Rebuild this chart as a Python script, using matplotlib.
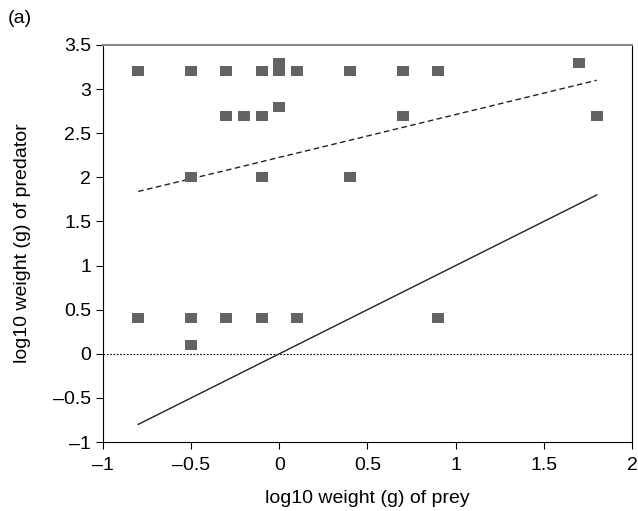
import matplotlib
matplotlib.use('Agg')
import matplotlib.pyplot as plt

plt.rcParams['font.family'] = ['Liberation Sans', 'DejaVu Sans']

# observed prey / predator weights (log10 g)
prey = [-0.8, -0.5, -0.3, -0.1, 0.0, 0.0, 0.1, 0.4, 0.7, 0.9, 1.7,
        -0.3, -0.2, -0.1, 0.0, 0.7, 1.8,
        -0.5, -0.1, 0.4,
        -0.8, -0.5, -0.3, -0.1, 0.1, 0.9,
        -0.5]
pred = [3.2, 3.2, 3.2, 3.2, 3.2, 3.3, 3.2, 3.2, 3.2, 3.2, 3.3,
        2.7, 2.7, 2.7, 2.8, 2.7, 2.7,
        2.0, 2.0, 2.0,
        0.4, 0.4, 0.4, 0.4, 0.4, 0.4,
        0.1]

# fitted trend line and 1:1 line
trend_x = [-0.8, -0.3, 1.8]
trend_y = [1.84, 2.08, 3.1]
equal_x = [-0.8, 1.8]
equal_y = [-0.8, 1.8]

fig = plt.figure(figsize=(6.38, 5.11), dpi=100)
ax = fig.add_axes([0.1614, 0.135, 0.8292, 0.777])

ax.axhline(0, color='black', linestyle=(0, (1.5, 1.5)), linewidth=0.8)
ax.plot(trend_x, trend_y, color='#222222', linestyle=(0, (4, 2.5)), linewidth=1.0)
ax.plot(equal_x, equal_y, color='#222222', linewidth=1.0)

rect = [(-1, -0.85), (1, -0.85), (1, 0.85), (-1, 0.85)]
ax.plot(prey, pred, linestyle='none', marker=rect, markersize=8.5,
        color='#636363', markeredgewidth=0)

ax.set_xlim(-1, 2)
ax.set_ylim(-1, 3.5)
ax.set_xticks([-1, -0.5, 0, 0.5, 1, 1.5, 2])
ax.set_yticks([-1, -0.5, 0, 0.5, 1, 1.5, 2, 2.5, 3, 3.5])
ax.set_xticklabels(['\u20131', '\u20130.5', '0', '0.5', '1', '1.5', '2'])
ax.set_yticklabels(['\u20131', '\u20130.5', '0', '0.5', '1', '1.5', '2', '2.5', '3', '3.5'])
ax.tick_params(direction='out', length=5, width=0.8, labelsize=14)
ax.tick_params(axis='x', pad=6)

ax.spines['top'].set_color('#888888')
ax.spines['top'].set_linewidth(1.5)
for s in ['left', 'right', 'bottom']:
    ax.spines[s].set_linewidth(0.8)

ax.set_xlabel('log10 weight (g) of prey', fontsize=14, labelpad=11)
ax.set_ylabel('log10 weight (g) of predator', fontsize=14, labelpad=16)
fig.text(0.012, 0.955, '(a)', fontsize=14)

plt.savefig('out.png', dpi=100)
